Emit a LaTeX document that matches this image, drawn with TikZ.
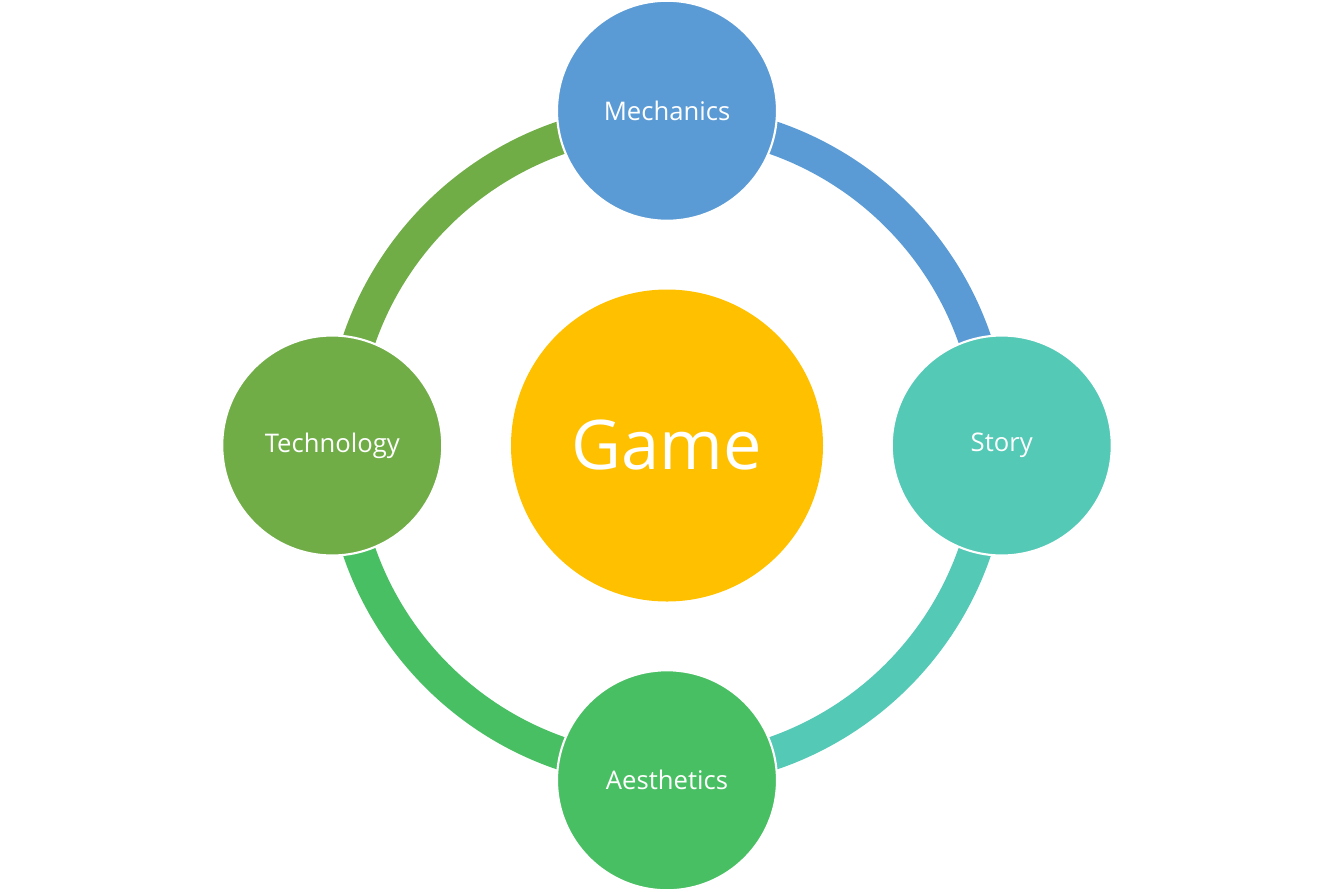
\documentclass[tikz,border=0pt]{standalone}
\usepackage{fontspec}
\setmainfont{Open Sans}
\usetikzlibrary{positioning}
\definecolor{gameyellow}{RGB}{255,192,0}
\definecolor{mechblue}{RGB}{91,155,213}
\definecolor{storyteal}{RGB}{83,201,182}
\definecolor{aesgreen}{RGB}{73,191,99}
\definecolor{techgreen}{RGB}{112,173,71}

\begin{document}
\begin{tikzpicture}[
  part/.style={circle, draw=white, line width=0.6pt, minimum size=2.2cm, inner sep=0pt, text=white, font=\fontsize{7.3}{9}\selectfont},
  ring/.style={line width=0.33cm},
  node distance=0.67cm]
\useasboundingbox (-6.67,-4.455) rectangle (6.67,4.455);
\node[circle, fill=gameyellow, minimum size=3.12cm, inner sep=0pt, text=white, font=\fontsize{19.5}{23}\selectfont] (game) at (0,0) {Game};
% ring segments, ends hidden under the circles
\draw[ring, mechblue] (game.center) ++(90:3.255) arc[start angle=90, end angle=0, radius=3.255];
\draw[ring, storyteal] (game.center) ++(0:3.255) arc[start angle=0, end angle=-90, radius=3.255];
\draw[ring, aesgreen] (game.center) ++(-90:3.255) arc[start angle=-90, end angle=-180, radius=3.255];
\draw[ring, techgreen] (game.center) ++(180:3.255) arc[start angle=180, end angle=90, radius=3.255];
\node[part, fill=mechblue, above=of game] (mech) {Mechanics};
\node[part, fill=storyteal, right=of game] (story) {Story};
\node[part, fill=aesgreen, below=of game] (aes) {Aesthetics};
\node[part, fill=techgreen, left=of game] (tech) {Technology};
\end{tikzpicture}
\end{document}
